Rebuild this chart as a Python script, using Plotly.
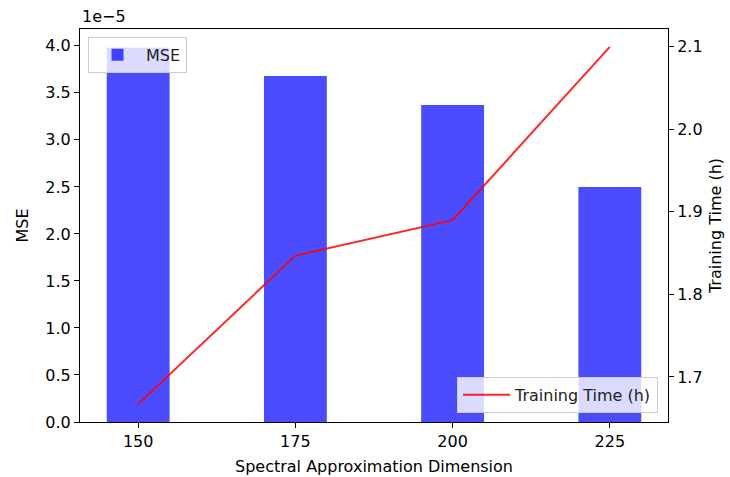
import plotly.graph_objects as go

# Spectral approximation dimension vs. reconstruction error and training cost
dimensions = [150, 175, 200, 225]
mse_values = [3.98e-5, 3.68e-5, 3.37e-5, 2.50e-5]
training_hours = [1.667, 1.847, 1.890, 2.100]

mse_tick_vals = [0.0, 0.5e-5, 1.0e-5, 1.5e-5, 2.0e-5, 2.5e-5, 3.0e-5, 3.5e-5, 4.0e-5]
mse_tick_text = ["0.0", "0.5", "1.0", "1.5", "2.0", "2.5", "3.0", "3.5", "4.0"]
time_tick_vals = [1.7, 1.8, 1.9, 2.0, 2.1]
time_tick_text = ["1.7", "1.8", "1.9", "2.0", "2.1"]
dim_tick_vals = [150, 175, 200, 225]

BAR_WIDTH = 10
FONT = "DejaVu Sans"

# autoscale ranges with 5% padding
x_lo = min(dimensions) - BAR_WIDTH / 2
x_hi = max(dimensions) + BAR_WIDTH / 2
x_pad = 0.05 * (x_hi - x_lo)
y1_hi = max(mse_values) * 1.05
t_span = max(training_hours) - min(training_hours)
y2_lo = min(training_hours) - 0.05 * t_span
y2_hi = max(training_hours) + 0.05 * t_span

fig = go.Figure()
fig.add_trace(go.Bar(
    x=dimensions, y=mse_values, width=BAR_WIDTH, name="MSE",
    marker=dict(color="rgba(0,0,255,0.7)", line=dict(width=0)),
    yaxis="y", legend="legend", showlegend=True,
))
fig.add_trace(go.Scatter(
    x=dimensions, y=training_hours, name="Training Time (h)", mode="lines",
    line=dict(color="rgba(255,0,0,0.85)", width=2),
    yaxis="y2", legend="legend2", showlegend=True,
))

axis_common = dict(
    showgrid=False, zeroline=False, showline=True, linecolor="black", linewidth=1,
    ticks="outside", ticklen=5, tickwidth=1, tickcolor="black", automargin=False,
    tickfont=dict(family=FONT, size=16, color="black"),
)

legend_common = dict(
    bgcolor="rgba(255,255,255,0.8)", bordercolor="#cccccc", borderwidth=1,
    itemwidth=47,
    font=dict(family=FONT, size=16, color="#222222"),
)

fig.update_layout(
    width=730, height=477,
    margin=dict(l=80, r=62, t=29, b=55),
    paper_bgcolor="white", plot_bgcolor="white",
    showlegend=True,
    font=dict(family=FONT, size=16, color="black"),
    xaxis=dict(
        **axis_common, mirror=True,
        range=[x_lo - x_pad, x_hi + x_pad],
        tickvals=dim_tick_vals,
        title=dict(text="Spectral Approximation Dimension", font=dict(family=FONT, size=16), standoff=10),
    ),
    yaxis=dict(
        **axis_common,
        range=[0, y1_hi],
        tickvals=mse_tick_vals, ticktext=mse_tick_text,
        title=dict(text="MSE", font=dict(family=FONT, size=16), standoff=12),
    ),
    yaxis2=dict(
        **axis_common,
        overlaying="y", side="right", anchor="x",
        range=[y2_lo, y2_hi],
        tickvals=time_tick_vals, ticktext=time_tick_text,
        title=dict(text="Training Time (h)", font=dict(family=FONT, size=16), standoff=8),
    ),
    legend=dict(x=0.0136, y=0.98, xanchor="left", yanchor="top", **legend_common),
    legend2=dict(x=0.983, y=0.023, xanchor="right", yanchor="bottom", **legend_common),
    annotations=[dict(
        text="1e\u22125", xref="paper", yref="paper", x=0, y=1.031,
        xanchor="left", yanchor="middle", showarrow=False,
        font=dict(family=FONT, size=16, color="black"),
    )],
)

fig.write_html("out.html")
